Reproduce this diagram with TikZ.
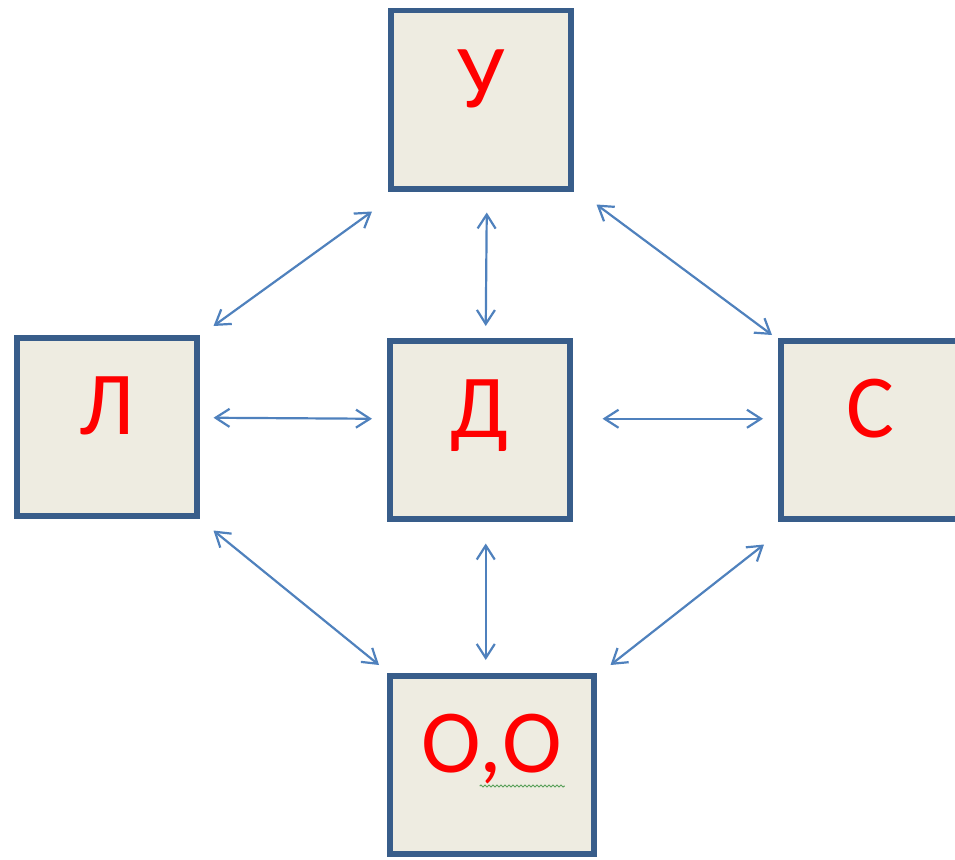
\documentclass[tikz,border=0pt]{standalone}
\usepackage{fontspec}
\setmainfont{Carlito}
\definecolor{boxblue}{RGB}{56,93,138}
\definecolor{boxfill}{RGB}{238,236,225}
\definecolor{linkblue}{RGB}{79,129,189}
\definecolor{wavegreen}{RGB}{90,160,90}
\usetikzlibrary{arrows.meta,decorations.pathmorphing}

\begin{document}
\begin{tikzpicture}[x=1pt, y=-1pt,
      box/.style={draw=boxblue, fill=boxfill, line width=5.5pt, outer sep=2.75pt,
                  inner sep=0pt, anchor=north west, minimum width=180pt,
                  text height=97pt, text depth=81pt, text=red,
                  font=\fontsize{90}{90}\selectfont},
      link/.style={{Straight Barb[length=14pt,width=18pt]}-{Straight Barb[length=14pt,width=18pt]},
                   line width=2.2pt, linkblue}
    ]
    \useasboundingbox (0,0) rectangle (955,859);
    \clip (0,0) rectangle (955,859);

    \node[box] (u) at (388,8) {У};
    \node[box] (l) at (14,335) {Л};
    \node[box] (d) at (387,338) {Д};
    \node[box] (s) at (778,338) {С};
    \node[box, minimum width=204pt] (o) at (387,673) {О,О};

    % spell-check underline
    \draw[wavegreen, line width=1pt, decorate,
          decoration={snake, amplitude=1pt, segment length=4pt}]
      ([shift={(-12,113)}]o.north) -- ([shift={(73,113)}]o.north);

    \draw[link] ([shift={(-16,20)}]u.south west) -- ([shift={(14,-9)}]l.north east);
    \draw[link] ([shift={(6,21)}]u.south) -- ([shift={(6,-12)}]d.north);
    \draw[link] ([shift={(23,13)}]u.south east) -- ([shift={(-6,-3)}]s.north west);
    \draw[link] ([shift={(14,-9)}]l.east) -- ([shift={(-15,-11)}]d.west);
    \draw[link] ([shift={(30,-11)}]d.east) -- ([shift={(-15,-11)}]s.west);
    \draw[link] ([shift={(14,12)}]l.south east) -- ([shift={(-8,-8)}]o.north west);
    \draw[link] ([shift={(6,22)}]d.south) -- ([shift={(-6,-13)}]o.north);
    \draw[link] ([shift={(-14,23)}]s.south west) -- ([shift={(14,-8)}]o.north east);
  \end{tikzpicture}
\end{document}
